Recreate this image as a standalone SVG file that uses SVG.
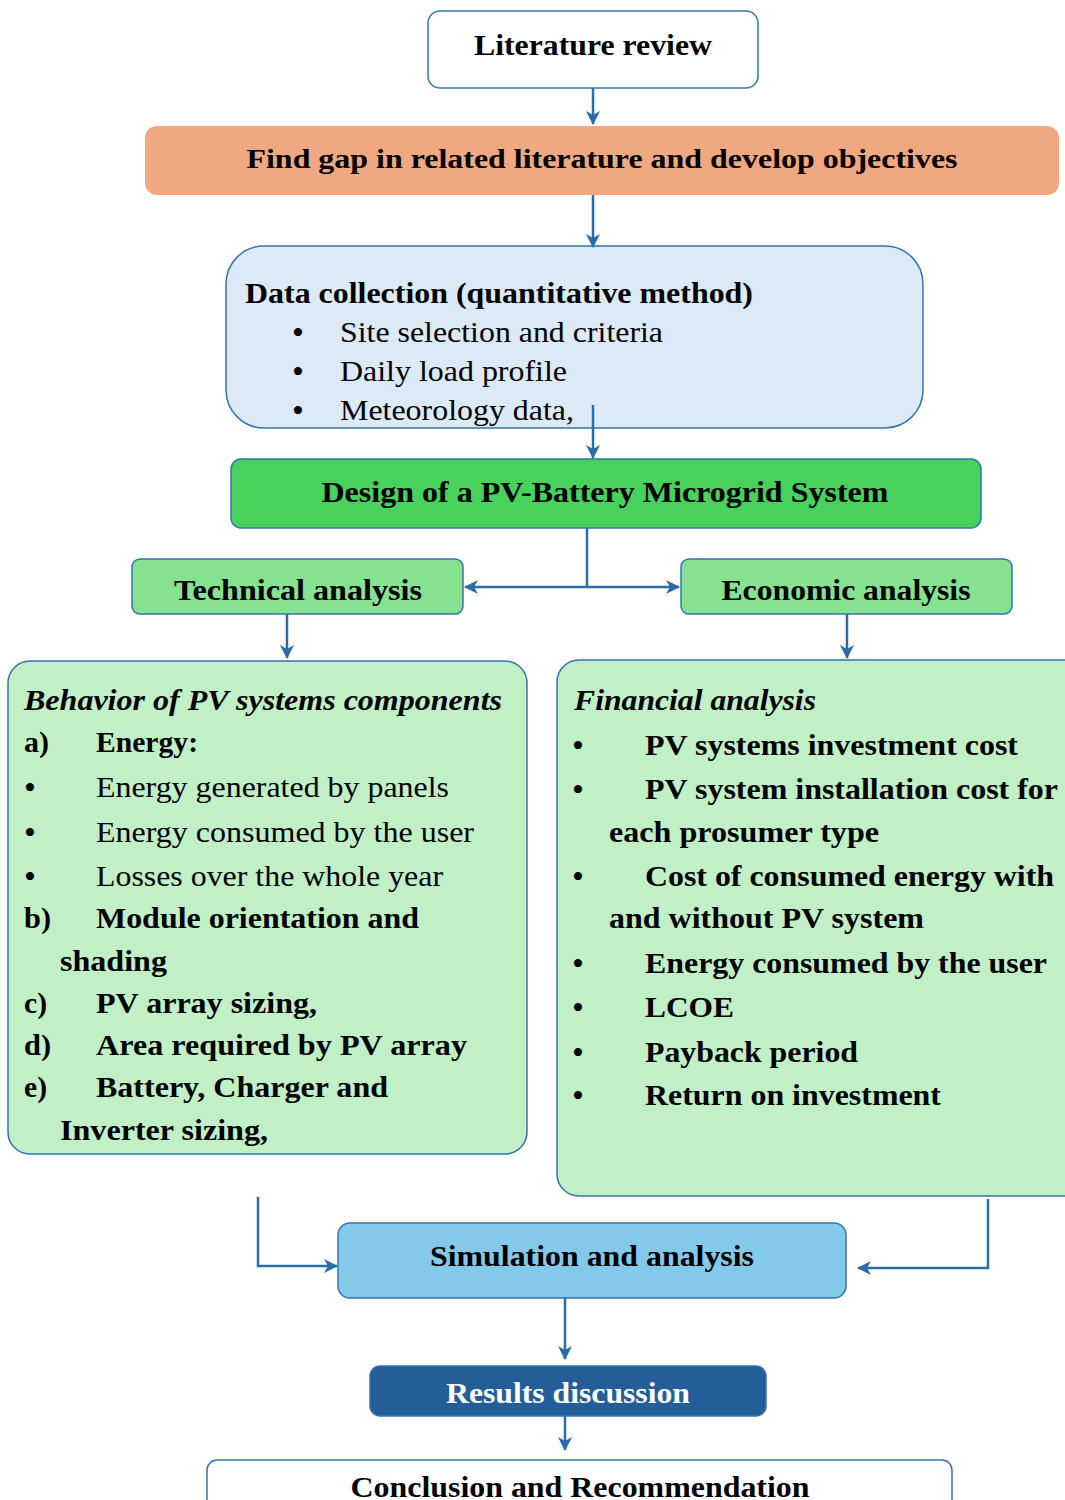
<svg xmlns="http://www.w3.org/2000/svg" width="1065" height="1500" viewBox="0 0 1065 1500" font-family="Liberation Serif, serif">
<style>
.b{font-weight:bold}
.bi{font-weight:bold;font-style:italic}
.box{stroke:#3474AD;stroke-width:1.5}
.c{fill:none;stroke:#2A6CA6;stroke-width:2.5}
.bu{font-size:34px}
</style>
<defs>
<marker id="ah" viewBox="0 0 14 14" refX="13" refY="7" markerWidth="14" markerHeight="14" markerUnits="userSpaceOnUse" orient="auto-start-reverse">
<path d="M0,0 L14,7 L0,14 L4,7 z" fill="#2A6CA6"/>
</marker>
</defs>

<g id="n-literature">
<rect class="box" x="428" y="11" width="330" height="77" rx="12" fill="#fff"/>
<text class="b" x="593" y="55" font-size="30" text-anchor="middle" textLength="238" lengthAdjust="spacingAndGlyphs">Literature review</text>
</g>

<g id="n-gap">
<rect x="145" y="126" width="914" height="69" rx="12" fill="#F0A882"/>
<text class="b" x="602" y="168" font-size="28" text-anchor="middle" textLength="711" lengthAdjust="spacingAndGlyphs">Find gap in related literature and develop objectives</text>
</g>

<g id="n-data">
<rect class="box" x="226" y="246" width="697" height="182" rx="38" fill="#DCE9F6"/>
<text class="b" x="245" y="303" font-size="30" textLength="508" lengthAdjust="spacingAndGlyphs">Data collection (quantitative method)</text>
<text class="bu" x="292" y="344">•</text>
<text x="340" y="342" font-size="30" textLength="323" lengthAdjust="spacingAndGlyphs">Site selection and criteria</text>
<text class="bu" x="292" y="383">•</text>
<text x="340" y="381" font-size="30" textLength="227" lengthAdjust="spacingAndGlyphs">Daily load profile</text>
<text class="bu" x="292" y="422">•</text>
<text x="340" y="420" font-size="30" textLength="234" lengthAdjust="spacingAndGlyphs">Meteorology data,</text>
</g>

<g id="n-design">
<rect class="box" x="231" y="459" width="750" height="69" rx="10" fill="#46D25B"/>
<text class="b" x="605" y="502" font-size="30" text-anchor="middle" textLength="567" lengthAdjust="spacingAndGlyphs">Design of a PV-Battery Microgrid System</text>
</g>

<g id="n-technical">
<rect class="box" x="132" y="559" width="331" height="55" rx="8" fill="#86E290"/>
<text class="b" x="298" y="600" font-size="30" text-anchor="middle" textLength="248" lengthAdjust="spacingAndGlyphs">Technical analysis</text>
</g>

<g id="n-economic">
<rect class="box" x="681" y="559" width="331" height="55" rx="8" fill="#86E290"/>
<text class="b" x="846" y="600" font-size="30" text-anchor="middle" textLength="249" lengthAdjust="spacingAndGlyphs">Economic analysis</text>
</g>

<g id="n-behavior">
<rect class="box" x="8" y="661" width="519" height="493" rx="22" fill="#C1EFC6"/>
<text class="bi" x="24" y="710" font-size="30" textLength="478" lengthAdjust="spacingAndGlyphs">Behavior of PV systems components</text>
<text class="b" x="24" y="752" font-size="30" textLength="25" lengthAdjust="spacingAndGlyphs">a)</text>
<text class="b" x="96" y="752" font-size="30" textLength="102" lengthAdjust="spacingAndGlyphs">Energy:</text>
<text class="bu" x="24" y="799">•</text>
<text x="96" y="797" font-size="30" textLength="353" lengthAdjust="spacingAndGlyphs">Energy generated by panels</text>
<text class="bu" x="24" y="844">•</text>
<text x="96" y="842" font-size="30" textLength="378" lengthAdjust="spacingAndGlyphs">Energy consumed by the user</text>
<text class="bu" x="24" y="888">•</text>
<text x="96" y="886" font-size="30" textLength="347" lengthAdjust="spacingAndGlyphs">Losses over the whole year</text>
<text class="b" x="24" y="928" font-size="30" textLength="27" lengthAdjust="spacingAndGlyphs">b)</text>
<text class="b" x="96" y="928" font-size="30" textLength="323" lengthAdjust="spacingAndGlyphs">Module orientation and</text>
<text class="b" x="60" y="971" font-size="30" textLength="107" lengthAdjust="spacingAndGlyphs">shading</text>
<text class="b" x="24" y="1013" font-size="30" textLength="23" lengthAdjust="spacingAndGlyphs">c)</text>
<text class="b" x="96" y="1013" font-size="30" textLength="221" lengthAdjust="spacingAndGlyphs">PV array sizing,</text>
<text class="b" x="24" y="1055" font-size="30" textLength="27" lengthAdjust="spacingAndGlyphs">d)</text>
<text class="b" x="96" y="1055" font-size="30" textLength="371" lengthAdjust="spacingAndGlyphs">Area required by PV array</text>
<text class="b" x="24" y="1097" font-size="30" textLength="23" lengthAdjust="spacingAndGlyphs">e)</text>
<text class="b" x="96" y="1097" font-size="30" textLength="292" lengthAdjust="spacingAndGlyphs">Battery, Charger and</text>
<text class="b" x="60" y="1140" font-size="30" textLength="208" lengthAdjust="spacingAndGlyphs">Inverter sizing,</text>
</g>

<g id="n-financial">
<rect class="box" x="557" y="660" width="530" height="536" rx="22" fill="#C1EFC6"/>
<text class="bi" x="574" y="710" font-size="30" textLength="242" lengthAdjust="spacingAndGlyphs">Financial analysis</text>
<text class="bu" x="572" y="757">•</text>
<text class="b" x="645" y="755" font-size="30" textLength="373" lengthAdjust="spacingAndGlyphs">PV systems investment cost</text>
<text class="bu" x="572" y="801">•</text>
<text class="b" x="645" y="799" font-size="30" textLength="413" lengthAdjust="spacingAndGlyphs">PV system installation cost for</text>
<text class="b" x="609" y="842" font-size="30" textLength="270" lengthAdjust="spacingAndGlyphs">each prosumer type</text>
<text class="bu" x="572" y="888">•</text>
<text class="b" x="645" y="886" font-size="30" textLength="409" lengthAdjust="spacingAndGlyphs">Cost of consumed energy with</text>
<text class="b" x="609" y="928" font-size="30" textLength="315" lengthAdjust="spacingAndGlyphs">and without PV system</text>
<text class="bu" x="572" y="975">•</text>
<text class="b" x="645" y="973" font-size="30" textLength="402" lengthAdjust="spacingAndGlyphs">Energy consumed by the user</text>
<text class="bu" x="572" y="1019">•</text>
<text class="b" x="645" y="1017" font-size="30" textLength="89" lengthAdjust="spacingAndGlyphs">LCOE</text>
<text class="bu" x="572" y="1064">•</text>
<text class="b" x="645" y="1062" font-size="30" textLength="213" lengthAdjust="spacingAndGlyphs">Payback period</text>
<text class="bu" x="572" y="1107">•</text>
<text class="b" x="645" y="1105" font-size="30" textLength="296" lengthAdjust="spacingAndGlyphs">Return on investment</text>
</g>

<g id="n-simulation">
<rect class="box" x="338" y="1223" width="508" height="75" rx="12" fill="#85C9EA"/>
<text class="b" x="592" y="1266" font-size="30" text-anchor="middle" textLength="324" lengthAdjust="spacingAndGlyphs">Simulation and analysis</text>
</g>

<g id="n-results">
<rect class="box" x="370" y="1366" width="396" height="50" rx="10" fill="#235E99"/>
<text class="b" x="568" y="1403" font-size="30" text-anchor="middle" textLength="244" lengthAdjust="spacingAndGlyphs" fill="#fff">Results discussion</text>
</g>

<g id="n-conclusion">
<rect class="box" x="207" y="1460" width="745" height="60" rx="10" fill="#fff"/>
<text class="b" x="580" y="1497" font-size="30" text-anchor="middle" textLength="459" lengthAdjust="spacingAndGlyphs">Conclusion and Recommendation</text>
</g>

<g id="connectors">
<path class="c" d="M593,88 V124" marker-end="url(#ah)"/>
<path class="c" d="M593,195 V247" marker-end="url(#ah)"/>
<path class="c" d="M593,405 V458" marker-end="url(#ah)"/>
<path class="c" d="M587,528 V587"/>
<path class="c" d="M465,587 H679" marker-start="url(#ah)" marker-end="url(#ah)"/>
<path class="c" d="M287,614 V658" marker-end="url(#ah)"/>
<path class="c" d="M847,614 V658" marker-end="url(#ah)"/>
<path class="c" d="M258,1197 V1266 H337" marker-end="url(#ah)"/>
<path class="c" d="M988,1199 V1268 H858" marker-end="url(#ah)"/>
<path class="c" d="M565,1298 V1359" marker-end="url(#ah)"/>
<path class="c" d="M565,1416 V1450" marker-end="url(#ah)"/>
</g>
</svg>
